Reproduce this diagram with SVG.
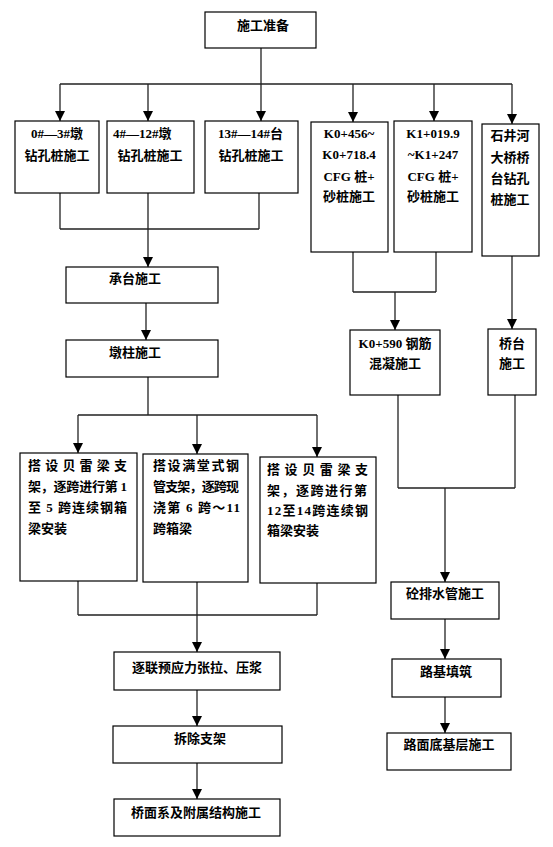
<svg xmlns="http://www.w3.org/2000/svg" width="553" height="847" viewBox="0 0 553 847">
<style>
.box{fill:#fff;stroke:#000;stroke-width:1.2}
.ln{fill:none;stroke:#222;stroke-width:1.3}
text{font-family:"Liberation Serif","Noto Sans CJK SC",serif;font-size:13px;font-weight:bold;fill:#000}
.c{text-anchor:middle}
</style>
<defs>
<marker id="arr" markerUnits="userSpaceOnUse" markerWidth="10" markerHeight="10" refX="10" refY="5" orient="auto">
<path d="M0,0 L10,5 L0,10 z" fill="#000"/>
</marker>
</defs>
<rect width="553" height="847" fill="#fff"/>
<g id="connectors">
<path class="ln" d="M261,48 V84 M60,84 H512"/>
<path class="ln" marker-end="url(#arr)" d="M60,84 V121"/>
<path class="ln" marker-end="url(#arr)" d="M148,84 V121"/>
<path class="ln" marker-end="url(#arr)" d="M261,84 V121"/>
<path class="ln" marker-end="url(#arr)" d="M353,84 V122"/>
<path class="ln" marker-end="url(#arr)" d="M434,84 V121"/>
<path class="ln" marker-end="url(#arr)" d="M512,84 V124"/>
<path class="ln" d="M60,193 V229 M148,193 V229 M259,193 V229 M60,229 H259"/>
<path class="ln" marker-end="url(#arr)" d="M148,229 V267"/>
<path class="ln" marker-end="url(#arr)" d="M146,303 V340"/>
<path class="ln" d="M148,377 V415 M78,415 H317"/>
<path class="ln" marker-end="url(#arr)" d="M78,415 V453"/>
<path class="ln" marker-end="url(#arr)" d="M197,415 V454"/>
<path class="ln" marker-end="url(#arr)" d="M317,415 V457"/>
<path class="ln" d="M78,581 V615 M197,582 V615 M317,583 V615 M78,615 H317"/>
<path class="ln" marker-end="url(#arr)" d="M197,615 V652"/>
<path class="ln" marker-end="url(#arr)" d="M197,690 V726"/>
<path class="ln" marker-end="url(#arr)" d="M197,763 V799"/>
<path class="ln" d="M353,252 V292 M436,252 V292 M353,292 H436"/>
<path class="ln" marker-end="url(#arr)" d="M395,292 V330"/>
<path class="ln" marker-end="url(#arr)" d="M512,256 V329"/>
<path class="ln" d="M398,395 V488 M515,395 V488 M398,488 H515"/>
<path class="ln" marker-end="url(#arr)" d="M445,488 V582"/>
<path class="ln" marker-end="url(#arr)" d="M445,619 V659"/>
<path class="ln" marker-end="url(#arr)" d="M445,697 V733"/>
</g>
<g id="n-prep"><rect class="box" x="205" y="12" width="111" height="36"/><text class="c" x="263" y="30">施工准备</text></g>
<g id="n-a"><rect class="box" x="15" y="121" width="84" height="72"/><text class="c" x="57" y="138">0#—3#墩</text><text class="c" x="57" y="160">钻孔桩施工</text></g>
<g id="n-b"><rect class="box" x="107" y="121" width="87" height="72"/><text x="113" y="138">4#—12#墩</text><text class="c" x="150" y="160">钻孔桩施工</text></g>
<g id="n-c"><rect class="box" x="205" y="121" width="93" height="72"/><text x="218" y="138">13#—14#台</text><text class="c" x="251" y="160">钻孔桩施工</text></g>
<g id="n-d"><rect class="box" x="311" y="122" width="77" height="130"/><text class="c" x="349" y="138">K0+456~</text><text class="c" x="349" y="159">K0+718.4</text><text class="c" x="349" y="181">CFG 桩+</text><text class="c" x="349" y="201">砂桩施工</text></g>
<g id="n-e"><rect class="box" x="394" y="121" width="78" height="131"/><text class="c" x="433" y="138">K1+019.9</text><text class="c" x="433" y="159">~K1+247</text><text class="c" x="433" y="181">CFG 桩+</text><text class="c" x="433" y="201">砂桩施工</text></g>
<g id="n-f"><rect class="box" x="482" y="124" width="57" height="132"/><text class="c" x="510" y="140">石井河</text><text class="c" x="510" y="162">大桥桥</text><text class="c" x="510" y="183">台钻孔</text><text class="c" x="510" y="204">桩施工</text></g>
<g id="n-cap"><rect class="box" x="66" y="267" width="152" height="36"/><text class="c" x="135" y="283">承台施工</text></g>
<g id="n-pier"><rect class="box" x="66" y="340" width="152" height="37"/><text class="c" x="135" y="357">墩柱施工</text></g>
<g id="n-k0590"><rect class="box" x="350" y="330" width="90" height="65"/><text class="c" x="395" y="348">K0+590 钢筋</text><text class="c" x="395" y="368">混凝施工</text></g>
<g id="n-abut"><rect class="box" x="488" y="329" width="48" height="66"/><text class="c" x="512" y="348">桥台</text><text class="c" x="512" y="368">施工</text></g>
<g id="n-g"><rect class="box" x="20" y="453" width="117" height="128"/>
<text x="28" y="470" textLength="99" lengthAdjust="spacing">搭设贝雷梁支</text>
<text x="28" y="491" textLength="99" lengthAdjust="spacing">架，逐跨进行第 1</text>
<text x="28" y="512" textLength="99" lengthAdjust="spacing">至 5 跨连续钢箱</text>
<text x="28" y="533">梁安装</text></g>
<g id="n-h"><rect class="box" x="143" y="454" width="105" height="128"/>
<text x="153" y="470" textLength="86" lengthAdjust="spacing">搭设满堂式钢</text>
<text x="153" y="491" textLength="86" lengthAdjust="spacing">管支架，逐跨现</text>
<text x="153" y="512" textLength="87" lengthAdjust="spacing">浇第 6 跨～11</text>
<text x="153" y="533">跨箱梁</text></g>
<g id="n-i"><rect class="box" x="260" y="457" width="116" height="126"/>
<text x="267" y="474" textLength="101" lengthAdjust="spacing">搭设贝雷梁支</text>
<text x="267" y="495" textLength="100" lengthAdjust="spacing">架，逐跨进行第</text>
<text x="267" y="515" textLength="101" lengthAdjust="spacing">12至14跨连续钢</text>
<text x="267" y="535">箱梁安装</text></g>
<g id="n-tension"><rect class="box" x="114" y="652" width="166" height="38"/><text class="c" x="197" y="672">逐联预应力张拉、压浆</text></g>
<g id="n-remove"><rect class="box" x="113" y="726" width="169" height="37"/><text class="c" x="200" y="743">拆除支架</text></g>
<g id="n-deck"><rect class="box" x="114" y="799" width="166" height="37"/><text class="c" x="196" y="817">桥面系及附属结构施工</text></g>
<g id="n-drain"><rect class="box" x="391" y="582" width="108" height="37"/><text class="c" x="445" y="598">砼排水管施工</text></g>
<g id="n-fill"><rect class="box" x="392" y="659" width="109" height="38"/><text class="c" x="446" y="676">路基填筑</text></g>
<g id="n-base"><rect class="box" x="387" y="733" width="124" height="37"/><text class="c" x="449" y="749">路面底基层施工</text></g>
</svg>
